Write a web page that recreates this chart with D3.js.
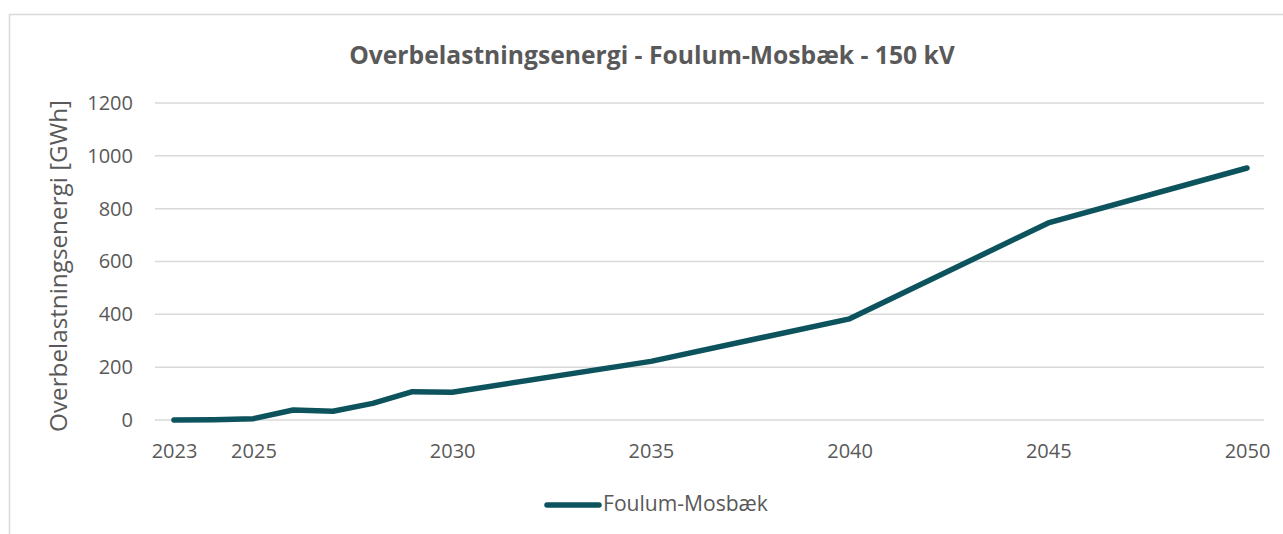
<!DOCTYPE html>
<html>
<head>
<meta charset="utf-8">
<script src="https://cdn.jsdelivr.net/npm/d3@7"></script>
<style>
  body { margin: 0; background: #fff; }
  text { font-family: "Open Sans", "Noto Sans", sans-serif; }
</style>
</head>
<body>
<div id="chart"></div>
<script>
// Data
const years = [2023, 2024, 2025, 2026, 2027, 2028, 2029, 2030, 2035, 2040, 2045, 2050];
const energy = [0, 1, 5, 38, 33, 63, 107, 105, 222, 383, 746, 954];
const xTicks = [2023, 2025, 2030, 2035, 2040, 2045, 2050];
const yTicks = [0, 200, 400, 600, 800, 1000, 1200];
const seriesName = "Foulum-Mosbæk";
const title = "Overbelastningsenergi - Foulum-Mosbæk - 150 kV";
const yTitle = "Overbelastningsenergi [GWh]";

const width = 1283;
const height = 534;
const textColor = "#595959";
const lineColor = "#0c535d";

const svg = d3.select("#chart")
  .append("svg")
    .attr("width", width)
    .attr("height", height);

// Chart frame (cut off at the right and bottom)
svg.append("rect")
  .attr("x", 9.5)
  .attr("y", 14.5)
  .attr("width", width)
  .attr("height", height)
  .attr("fill", "none")
  .attr("stroke", "#d9d9d9")
  .attr("stroke-width", 1.5);

const x = d3.scaleLinear()
  .domain([2023, 2050])
  .range([174, 1247]);

const y = d3.scaleLinear()
  .domain([0, 1200])
  .range([420, 103]);

// Shrink/grow a text node so it spans a given width
const fitWidth = (sel, target) => {
  const node = sel.node();
  const size = parseFloat(sel.attr("font-size"));
  const w = node.getComputedTextLength();
  sel.attr("font-size", size * target / w);
};

// Gridlines
svg.append("g")
  .selectAll("line")
  .data(yTicks)
  .join("line")
    .attr("x1", 155)
    .attr("x2", 1264)
    .attr("y1", d => y(d))
    .attr("y2", d => y(d))
    .attr("stroke", "#d9d9d9")
    .attr("stroke-width", 1.5);

// Y axis labels
const yAxis = svg.append("g")
  .attr("transform", "translate(133,0)")
  .call(d3.axisLeft(y).tickValues(yTicks).tickFormat(d3.format("d")).tickSize(0).tickPadding(0));
yAxis.select(".domain").remove();
yAxis.selectAll("text")
  .attr("fill", textColor)
  .attr("font-size", 20)
  .attr("font-family", "'Open Sans', sans-serif");

// X axis labels
const xAxis = svg.append("g")
  .attr("transform", "translate(0,444)")
  .call(d3.axisBottom(x).tickValues(xTicks).tickFormat(d3.format("d")).tickSize(0).tickPadding(0));
xAxis.select(".domain").remove();
xAxis.selectAll("text")
  .attr("fill", textColor)
  .attr("font-size", 20)
  .attr("font-family", "'Open Sans', sans-serif");

// Line
const line = d3.line()
  .x((d, i) => x(years[i]))
  .y(d => y(d));

svg.append("path")
  .datum(energy)
  .attr("d", line)
  .attr("fill", "none")
  .attr("stroke", lineColor)
  .attr("stroke-width", 5.5)
  .attr("stroke-linejoin", "round")
  .attr("stroke-linecap", "round");

// Title
const titleText = svg.append("text")
  .attr("x", 652)
  .attr("y", 64)
  .attr("text-anchor", "middle")
  .attr("font-size", 20)
  .attr("font-weight", 700)
  .attr("fill", textColor)
  .text(title);
fitWidth(titleText, 606);

// Y axis title
const yTitleText = svg.append("text")
  .attr("transform", "translate(67,266) rotate(-90)")
  .attr("text-anchor", "middle")
  .attr("font-size", 20)
  .attr("fill", textColor)
  .text(yTitle);
fitWidth(yTitleText, 332);

// Legend
svg.append("line")
  .attr("x1", 547)
  .attr("x2", 599)
  .attr("y1", 505)
  .attr("y2", 505)
  .attr("stroke", lineColor)
  .attr("stroke-width", 5.5)
  .attr("stroke-linecap", "round");

const legendText = svg.append("text")
  .attr("x", 603)
  .attr("y", 511)
  .attr("font-size", 17)
  .attr("fill", textColor)
  .text(seriesName);
fitWidth(legendText, 165);
</script>
</body>
</html>
